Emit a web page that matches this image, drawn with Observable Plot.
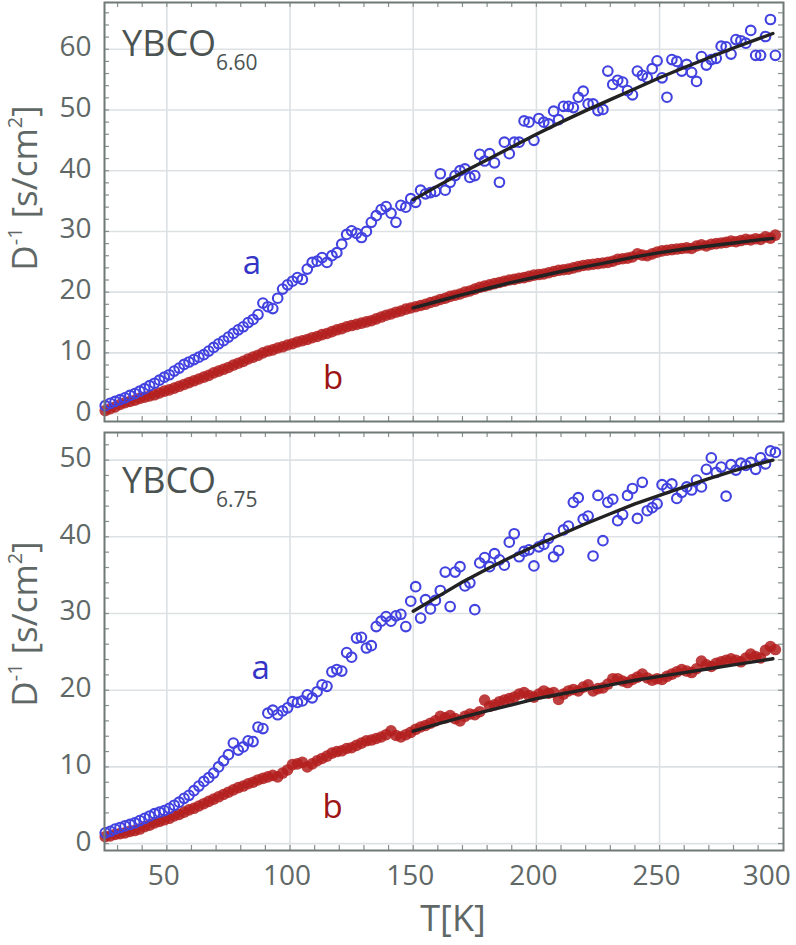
<!DOCTYPE html>
<html><head><meta charset="utf-8">
<script src="https://cdn.jsdelivr.net/npm/d3@7"></script>
<script src="https://cdn.jsdelivr.net/npm/@observablehq/plot@0.6"></script>
<style>
body{margin:0;background:#fff;}
#chart{width:796px;height:945px;font-family:"Open Sans",sans-serif;}
#chart svg{display:block;}
</style>
</head><body><div id="chart"></div>
<script>
// Temperature grid of the measured points (K)
const temps = [25,27,29,31,33,35,37,39,41,43,45,47,49,51,53,55,57,59,61,63,65,67,69,71,73,75,77,79,81,83,85,87,89,91,93,95,97,99,
101,103,105,107,109,111,113,115,117,119,121,123,125,127,129,131,133,135,137,139,141,143,145,147,149,
151,153,155,157,159,161,163,165,167,169,171,173,175,177,179,181,183,185,187,189,191,193,195,197,199,
201,203,205,207,209,211,213,215,217,219,221,223,225,227,229,231,233,235,237,239,241,243,245,247,249,
251,253,255,257,259,261,263,265,267,269,271,273,275,277,279,281,283,285,287,289,291,293,295,297];

// YBCO 6.60 — series a (open blue circles)
const topA = [1.3,1.7,2.0,2.3,2.6,3.0,3.3,3.7,4.1,4.6,5.0,5.5,6.0,
6.4,7.0,7.5,8.1,8.5,8.9,9.3,9.7,10.3,10.9,11.5,12.0,12.6,13.2,13.8,14.3,15.0,15.5,16.3,18.2,17.6,17.3,19.0,20.5,21.2,
21.8,22.4,22.1,23.8,24.9,25.1,25.7,24.9,26.0,26.5,27.9,29.5,30.1,29.7,29.0,30.0,31.5,32.6,33.6,34.1,33.0,31.5,34.3,34.0,35.4,
34.8,36.8,36.2,36.4,36.6,39.5,36.8,38.1,39.2,40.0,40.3,38.9,39.2,42.7,41.6,42.8,41.3,38.1,44.7,42.8,44.7,44.7,48.2,48.0,45.0,
48.6,48.0,47.7,49.8,48.4,50.6,50.6,50.4,52.1,53.1,51.0,51.0,49.9,50.1,56.4,54.2,54.9,54.6,53.2,52.5,56.4,55.7,55.3,56.8,58.1,
55.3,52.1,58.3,58.0,56.4,57.5,56.2,54.7,58.8,57.4,58.3,58.5,60.5,60.4,59.2,61.6,61.4,61.0,63.1,59.0,59.0,62.1,64.9,59.0];
// YBCO 6.60 — series b (filled red)
const topB = [0.5,0.8,1.1,1.5,1.8,2.0,2.2,2.5,2.7,2.9,3.1,3.4,3.7,
3.9,4.2,4.5,4.8,5.1,5.4,5.7,6.0,6.3,6.7,7.0,7.3,7.6,8.0,8.3,8.6,9.0,9.3,9.6,10.0,10.3,10.5,10.8,11.0,11.3,
11.5,11.8,12.0,12.2,12.5,12.7,13.0,13.2,13.5,13.8,14.0,14.3,14.5,14.7,14.9,15.1,15.3,15.6,15.9,16.2,16.4,16.7,16.9,17.2,17.4,
17.6,17.8,18.0,18.3,18.5,18.8,19.0,19.3,19.5,19.7,20.0,20.2,20.5,20.8,21.0,21.2,21.4,21.6,21.8,22.0,22.1,22.3,22.4,22.6,22.8,
22.9,23.0,23.2,23.4,23.6,23.7,23.8,24.0,24.2,24.4,24.5,24.6,24.7,24.8,24.9,25.1,25.4,25.5,25.6,25.8,26.3,26.1,26.0,26.3,26.6,
26.8,26.9,27.0,27.1,27.2,27.3,27.2,27.6,27.8,27.6,27.9,28.0,28.1,28.2,28.4,28.3,28.5,28.7,28.6,28.8,28.7,29.1,28.9,29.4];

// YBCO 6.75 — series a
const botA = [1.4,1.6,1.9,2.1,2.3,2.5,2.7,3.0,3.3,3.6,3.9,4.1,4.3,
4.6,5.0,5.4,5.9,6.3,6.9,7.5,8.1,8.6,9.2,10.0,10.8,11.6,13.1,12.2,12.6,13.4,13.3,15.2,15.0,17.0,17.4,16.8,17.3,17.7,
18.5,18.4,18.6,19.4,19.0,19.8,20.7,20.5,22.4,22.7,22.5,24.9,24.3,26.8,26.9,25.5,25.8,28.3,29.0,29.6,29.0,29.7,29.9,28.3,31.6,
33.5,29.4,31.8,30.6,31.7,33.0,35.4,30.9,35.4,36.1,33.6,34.0,30.5,36.6,37.3,36.1,37.8,37.0,36.3,39.3,40.4,37.4,38.1,38.3,36.2,
38.7,39.0,39.8,37.4,38.2,40.9,41.4,44.5,45.1,42.3,42.7,37.5,45.4,39.5,44.5,44.9,42.1,42.9,45.4,46.3,42.4,47.1,43.4,43.8,44.3,
46.8,46.3,46.9,45.0,45.8,46.5,46.1,47.4,46.5,48.8,50.3,48.4,49.1,45.3,49.4,48.7,49.6,49.3,49.7,48.8,50.3,49.5,51.2,51.0];
// YBCO 6.75 — series b
const botB = [0.9,1.0,1.2,1.3,1.4,1.6,1.7,1.9,2.2,2.4,2.7,2.9,3.1,
3.3,3.6,3.8,4.1,4.4,4.6,4.9,5.2,5.5,5.8,6.1,6.4,6.7,7.0,7.3,7.5,7.8,8.0,8.3,8.5,8.7,8.9,8.7,9.2,9.6,
10.3,10.4,10.6,10.0,10.4,10.8,11.1,11.4,11.8,12.0,12.1,12.4,12.5,12.8,13.1,13.4,13.5,13.7,13.9,14.2,14.7,14.1,13.9,14.2,14.5,
14.9,15.2,15.4,15.7,16.0,16.6,16.4,16.7,16.3,16.0,16.6,16.9,16.8,17.2,18.7,17.9,18.1,18.5,18.7,18.9,19.1,19.5,19.7,19.3,19.1,
19.5,19.9,19.6,19.7,18.8,19.5,19.9,20.1,19.9,20.4,20.7,19.9,20.2,20.3,20.8,21.5,21.5,21.2,21.0,21.4,21.7,22.1,21.6,21.3,21.5,
21.4,21.8,22.1,22.4,22.7,22.5,22.3,22.8,23.8,23.3,23.1,23.5,23.7,23.9,24.1,23.9,23.7,24.2,24.7,24.4,24.2,25.2,25.7,25.3];

// Fit curves (T >= 150 K)
const fitTemps = [150,160,170,180,190,200,210,220,230,240,250,260,270,280,290,296];
const topFitA = [35.2,37.5,39.7,41.8,43.9,46.0,48.0,49.9,51.7,53.5,55.3,57.0,58.6,60.2,61.7,62.6];
const topFitB = [17.4,18.5,19.6,20.6,21.6,22.5,23.4,24.2,25.0,25.8,26.5,27.1,27.6,28.1,28.6,28.85];
const botFitA = [30.3,32.2,34.1,35.8,37.4,38.9,40.3,41.7,43.0,44.3,45.4,46.5,47.6,48.6,49.5,50.0];
const botFitB = [14.65,15.6,16.5,17.3,18.1,18.9,19.5,20.1,20.7,21.3,21.8,22.3,22.8,23.3,23.8,24.1];

// Axis ticks / labels
const xTickValues = [50,100,150,200,250];
const xLastTick = [300];
const topYTicks = [0,10,20,30,40,50,60];
const botYTicks = [0,10,20,30,40,50];
const sampleNames = [["YBCO","6.60"],["YBCO","6.75"]];
const annTop = [{T:84.5, v:24.7, label:"a"},{T:117.5, v:5.8, label:"b"}];
const annBot = [{T:88.1, v:22.9, label:"a"},{T:117.3, v:4.7, label:"b"}];

const W = 796, ML = 104, MR = 13;
const blue = "#4242e0", red = "#b31d1d", txt = "#5f6866";
const xMinor = d3.range(30, 300, 10);

function panel(o){
  const plotH = o.height - o.marginTop - o.marginBottom;
  const plotW = W - ML - MR;
  const ptsA = temps.map((T,i)=>({T, v:o.a[i]}));
  const ptsB = temps.map((T,i)=>({T, v:o.b[i]}));
  const fA = fitTemps.map((T,i)=>({T, v:o.fa[i]}));
  const fB = fitTemps.map((T,i)=>({T, v:o.fb[i]}));
  const yMinor = d3.range(0, o.yDomain[1], 2);
  const tickStyle = {stroke:"#87908e", strokeWidth:1.2};
  const grid = {stroke:"#dde1e4", strokeOpacity:1, strokeWidth:1.6};
  const marks = [
    Plot.gridX(xTickValues, grid),
    Plot.gridY(o.yTicks, grid),
    Plot.tickX(xMinor, {x:d=>d, insetTop:plotH-5, ...tickStyle}),
    Plot.tickX(xMinor, {x:d=>d, insetBottom:plotH-5, ...tickStyle}),
    Plot.tickY(yMinor, {y:d=>d, insetRight:plotW-5, ...tickStyle}),
    Plot.tickY(yMinor, {y:d=>d, insetLeft:plotW-5, ...tickStyle}),
    Plot.dot(ptsB, {x:"T", y:"v", r:5.8, fill:red, fillOpacity:0.85, stroke:null}),
    Plot.dot(ptsA, {x:"T", y:"v", r:4.8, stroke:blue, strokeWidth:2.1, fill:"none"}),
    Plot.line(fA, {x:"T", y:"v", stroke:"#222", strokeWidth:3.4}),
    Plot.line(fB, {x:"T", y:"v", stroke:"#222", strokeWidth:3.4}),
    Plot.frame({stroke:"#6f7977", strokeWidth:2}),
    Plot.axisY(o.yTicks, {anchor:"left", tickSize:0, tickPadding:13, fontSize:28, dy:-2, label:null, fill:txt}),
    Plot.text(o.ann.filter(d=>d.label==="a"), {x:"T", y:"v", text:"label", fill:"#3434c6", fontSize:33}),
    Plot.text(o.ann.filter(d=>d.label==="b"), {x:"T", y:"v", text:"label", fill:"#9c1414", fontSize:33})
  ];
  if (o.showX) {
    marks.push(Plot.axisX(xTickValues, {anchor:"bottom", tickSize:0, tickPadding:15, fontSize:28, dx:-3, label:null, fill:txt}));
    marks.push(Plot.axisX(xLastTick, {anchor:"bottom", tickSize:0, tickPadding:15, fontSize:28, dx:-16, label:null, fill:txt}));
  }
  const svg = Plot.plot({
    width: W, height: o.height,
    marginLeft: ML, marginRight: MR, marginTop: o.marginTop, marginBottom: o.marginBottom,
    x: {domain:[24.7,300.3], axis:null, label:null},
    y: {domain:o.yDomain, axis:null, label:null},
    style: {fontFamily:'"Open Sans", sans-serif', color:txt, background:"white", overflow:"visible"},
    marks
  });
  const s = d3.select(svg);
  // sample name with subscript
  const t = s.append("text").attr("x",122).attr("y",o.marginTop + o.nameY)
    .attr("text-anchor","start").attr("font-size",36).attr("fill","#4b5352");
  t.append("tspan").text(o.name[0]);
  t.append("tspan").attr("font-size",21).attr("dy",14).text(o.name[1]);
  // y axis label with superscripts
  const yl = s.append("text").attr("transform",`translate(37,${o.yLabelY}) rotate(-90)`)
    .attr("text-anchor","middle").attr("font-size",35).attr("fill",txt);
  yl.append("tspan").text("D");
  yl.append("tspan").attr("font-size",20).attr("dy",-15).text("-1");
  yl.append("tspan").attr("dy",15).text(" [s/cm");
  yl.append("tspan").attr("font-size",20).attr("dy",-15).text("2");
  yl.append("tspan").attr("dy",15).text("]");
  if (o.showX) {
    s.append("text").attr("x",453).attr("y",506).attr("text-anchor","middle")
      .attr("font-size",36).attr("fill",txt).text("T[K]");
  }
  return svg;
}

const root = document.getElementById("chart");
root.appendChild(panel({a:topA, b:topB, fa:topFitA, fb:topFitB, yDomain:[-1.3,67.7], yTicks:topYTicks,
  height:425, marginTop:2, marginBottom:4, showX:false, ann:annTop, name:sampleNames[0], nameY:54, yLabelY:188}));
root.appendChild(panel({a:botA, b:botB, fa:botFitA, fb:botFitB, yDomain:[-0.9,53.6], yTicks:botYTicks,
  height:520, marginTop:7, marginBottom:95, showX:true, ann:annBot, name:sampleNames[1], nameY:61, yLabelY:199}));
</script>
</body></html>
